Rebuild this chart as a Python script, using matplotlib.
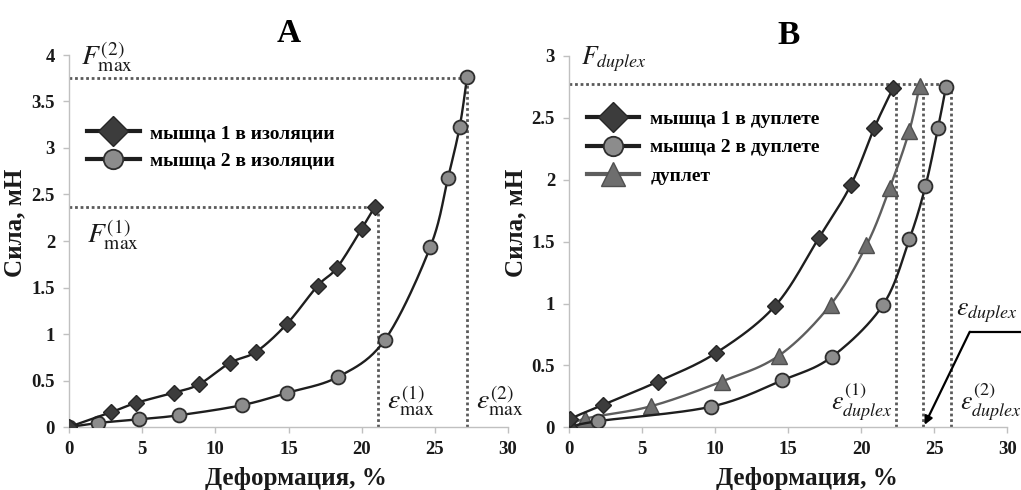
import numpy as np
import matplotlib
matplotlib.use("Agg")
import matplotlib.pyplot as plt
from matplotlib.lines import Line2D
from matplotlib.ticker import MultipleLocator, FuncFormatter

# ---- data: panel A (muscles in isolation) ----
a1_strain = [0.0, 2.9, 4.6, 7.2, 8.9, 11.0, 12.8, 14.9, 17.0, 18.3, 20.0, 20.9]
a1_force = [0.0, 0.16, 0.26, 0.37, 0.46, 0.69, 0.81, 1.11, 1.52, 1.71, 2.13, 2.37]
a2_strain = [0.0, 1.96, 4.8, 7.5, 11.8, 14.9, 18.4, 21.6, 24.7, 25.9, 26.7, 27.2]
a2_force = [0.0, 0.043, 0.083, 0.126, 0.234, 0.367, 0.54, 0.94, 1.94, 2.68, 3.23, 3.76]
a_fmax = [2.37, 3.75]
a_epsmax = [21.1, 27.17]

# ---- data: panel B (muscles in a duplex) ----
b1_strain = [0.0, 0.1, 2.3, 6.1, 10.05, 14.1, 17.1, 19.3, 20.9, 22.2]
b1_force = [0.0, 0.065, 0.18, 0.37, 0.60, 0.98, 1.53, 1.96, 2.42, 2.745]
b2_strain = [0.0, 2.0, 9.7, 14.6, 18.0, 21.5, 23.3, 24.4, 25.26, 25.8]
b2_force = [0.0, 0.05, 0.166, 0.38, 0.57, 0.99, 1.52, 1.95, 2.42, 2.75]
b3_strain = [0.0, 1.1, 5.6, 10.44, 14.38, 17.9, 20.36, 21.96, 23.28, 24.0]
b3_force = [0.0, 0.07, 0.17, 0.37, 0.58, 0.99, 1.47, 1.935, 2.39, 2.76]
b_fduplex = 2.77
b_epsduplex = [22.35, 24.24, 26.17]

labels_a = ["мышца 1 в изоляции", "мышца 2 в изоляции"]
labels_b = ["мышца 1 в дуплете", "мышца 2 в дуплете", "дуплет"]
xticks = [0, 5, 10, 15, 20, 25, 30]

plt.rcParams["font.family"] = ["Liberation Serif", "DejaVu Serif"]
plt.rcParams["mathtext.fontset"] = "stix"


def smooth(x, y, n=24):
    """Catmull-Rom curve through the points (smoothed line as in a spreadsheet chart)."""
    p = np.column_stack([x, y]).astype(float)
    p = np.vstack([p[0], p, p[-1]])
    t = np.linspace(0, 1, n)[:, None]
    segs = []
    for i in range(1, len(p) - 2):
        p0, p1, p2, p3 = p[i - 1], p[i], p[i + 1], p[i + 2]
        seg = 0.5 * (2 * p1 + (-p0 + p2) * t
                     + (2 * p0 - 5 * p1 + 4 * p2 - p3) * t ** 2
                     + (-p0 + 3 * p1 - 3 * p2 + p3) * t ** 3)
        segs.append(seg)
    c = np.vstack(segs)
    return c[:, 0], c[:, 1]


DIAMOND = dict(marker="D", ms=8, mfc="#3c3c3c", mec="#262626", mew=1.0)
CIRCLE = dict(marker="o", ms=10, mfc="#8c8c8c", mec="#2e2e2e", mew=1.3)
TRIANGLE = dict(marker="^", ms=11, mfc="#6e6e6e", mec="#505050", mew=1.0)
LINE_DARK = "#1e1e1e"
LINE_GRAY = "#5e5e5e"
DOT = dict(color="#5a5a5a", lw=2.0, ls=(0, (1, 1)), zorder=1)

W, H = 1021, 490
fig = plt.figure(figsize=(W / 100, H / 100), dpi=100)
axA = fig.add_axes([69 / W, 1 - 427 / H, 439 / W, 372 / H])
axB = fig.add_axes([569 / W, 1 - 427.3 / H, 438.3 / W, 371.3 / H])


def series(ax, x, y, style, lcolor, z):
    sx, sy = smooth(x, y)
    ax.plot(sx, sy, color=lcolor, lw=1.7, zorder=z, solid_capstyle="round")
    ax.plot(x, y, ls="none", zorder=z + 0.5, **style)


def style_axes(ax, ymax):
    ax.set_xlim(0, 30)
    ax.set_ylim(0, ymax)
    ax.set_xticks(xticks)
    ax.yaxis.set_major_locator(MultipleLocator(0.5))
    ax.yaxis.set_major_formatter(FuncFormatter(lambda v, _: "%g" % v))
    for s in ("top", "right"):
        ax.spines[s].set_visible(False)
    for s in ("left", "bottom"):
        ax.spines[s].set_color("#c0c0c0")
        ax.spines[s].set_linewidth(1.0)
    ax.tick_params(direction="out", length=4, width=1.0, color="#c0c0c0",
                   labelsize=13.5, labelcolor="#1a1a1a")
    ax.tick_params(axis="y", pad=6)
    ax.tick_params(axis="x", pad=6)
    for lab in ax.get_xticklabels() + ax.get_yticklabels():
        lab.set_fontweight("bold")
    ax.set_xlabel("Деформация, %", fontsize=18, fontweight="bold", color="#1a1a1a")
    ax.set_ylabel("Сила, мН", fontsize=18, fontweight="bold", color="#1a1a1a")
    ax.patch.set_alpha(0)


# ---- panel A ----
style_axes(axA, 4)
series(axA, a2_strain, a2_force, CIRCLE, LINE_DARK, 3)
series(axA, a1_strain, a1_force, DIAMOND, LINE_DARK, 4)
for f, e in zip(a_fmax, a_epsmax):
    axA.plot([0, e], [f, f], **DOT)
    axA.plot([e, e], [0, f], **DOT)
axA.set_title("A", fontsize=24, fontweight="bold", pad=9)
axA.xaxis.set_label_coords(0.517, -0.108)
axA.yaxis.set_label_coords(-0.097, 0.55)

mt = dict(fontsize=20, color="#1a1a1a", ha="left", va="baseline")
mts = dict(mt, fontsize=18.5)
axA.text(0.85, 3.9, r"$F_{\mathrm{max}}^{(2)}$", **mt)
axA.text(1.2, 1.98, r"$F_{\mathrm{max}}^{(1)}$", **mt)
axA.text(21.7, 0.2, r"$\varepsilon_{\mathrm{max}}^{(1)}$", **mt)
axA.text(27.8, 0.2, r"$\varepsilon_{\mathrm{max}}^{(2)}$", **mt)

hA = [Line2D([], [], color=LINE_DARK, lw=3, **dict(DIAMOND, ms=15)),
      Line2D([], [], color=LINE_DARK, lw=3, **dict(CIRCLE, ms=14))]
axA.legend(hA, labels_a, loc="upper left", bbox_to_anchor=(0.01, 0.85),
           frameon=False, handlelength=2.7, handletextpad=0.55, labelspacing=0.5,
           borderaxespad=0.3,
           prop=dict(family="Liberation Serif", weight="bold", size=14))

# ---- panel B ----
style_axes(axB, 3)
series(axB, b3_strain, b3_force, TRIANGLE, LINE_GRAY, 3)
series(axB, b2_strain, b2_force, CIRCLE, LINE_DARK, 4)
series(axB, b1_strain, b1_force, DIAMOND, LINE_DARK, 5)
axB.plot([0, max(b_epsduplex)], [b_fduplex, b_fduplex], **DOT)
for e in b_epsduplex:
    axB.plot([e, e], [0, b_fduplex - 0.04], **DOT)
axB.set_title("B", fontsize=24, fontweight="bold", pad=9)
axB.xaxis.set_label_coords(0.543, -0.108)
axB.yaxis.set_label_coords(-0.096, 0.55)

axB.text(0.8, 2.93, r"$F_{duplex}$", **mts)
axB.text(17.9, 0.14, r"$\varepsilon_{duplex}^{(1)}$", **mts)
axB.text(26.74, 0.14, r"$\varepsilon_{duplex}^{(2)}$", **mts)
axB.text(26.5, 0.905, r"$\varepsilon_{duplex}$", **mts)

# pointer from the duplex strain label to the duplex limit
axB.plot([31.0, 27.43], [0.772, 0.772], color="black", lw=1.6, clip_on=False,
         solid_capstyle="butt")
axB.annotate("", xy=(b_epsduplex[1] + 0.1, 0.02), xytext=(27.43, 0.772),
             arrowprops=dict(arrowstyle="-|>", color="black", lw=1.6,
                             mutation_scale=12, shrinkA=0, shrinkB=0),
             annotation_clip=False)

hB = [Line2D([], [], color=LINE_DARK, lw=3, **dict(DIAMOND, ms=15)),
      Line2D([], [], color=LINE_DARK, lw=3, **dict(CIRCLE, ms=14)),
      Line2D([], [], color=LINE_GRAY, lw=3, **dict(TRIANGLE, ms=17))]
axB.legend(hB, labels_b, loc="upper left", bbox_to_anchor=(0.01, 0.89),
           frameon=False, handlelength=2.7, handletextpad=0.55, labelspacing=0.55,
           borderaxespad=0.3,
           prop=dict(family="Liberation Serif", weight="bold", size=14))

fig.savefig("out.png", dpi=100, facecolor="white")
